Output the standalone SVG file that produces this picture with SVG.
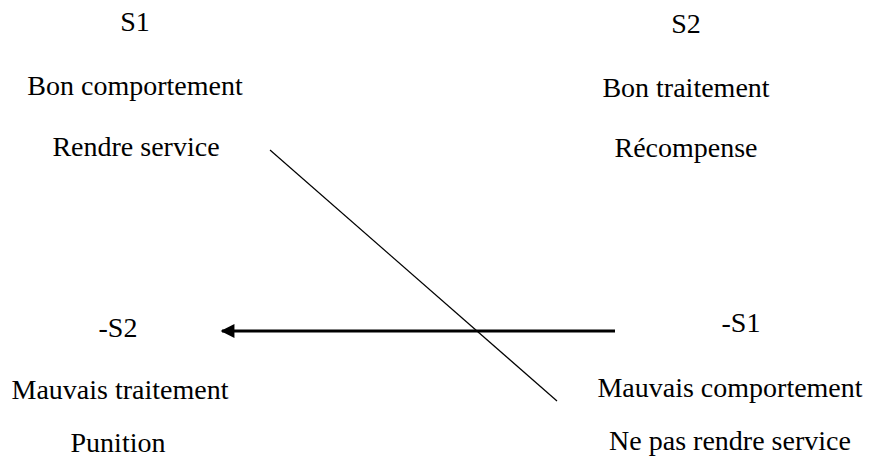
<svg xmlns="http://www.w3.org/2000/svg" width="879" height="463" viewBox="0 0 879 463">
  <style>
    .lbl { font-family: 'Liberation Serif', 'Times New Roman', Times, serif; font-size: 28px; fill: #000; text-anchor: middle; }
    .thin { stroke: #000; stroke-width: 1.2; fill: none; }
    .thick { stroke: #000; stroke-width: 3; fill: none; }
  </style>
  <defs>
    <marker id="head" viewBox="0 0 10 10" refX="9" refY="5" markerWidth="5.5" markerHeight="4.6" markerUnits="strokeWidth" orient="auto">
      <path d="M0,0 L10,5 L0,10 z" fill="#000"/>
    </marker>
  </defs>

  <rect width="879" height="463" fill="#fff"/>

  <g id="s1" class="lbl" font-family="Liberation Serif, serif">
    <text x="135" y="31">S1</text>
    <text x="135" y="95">Bon comportement</text>
    <text x="136" y="156">Rendre service</text>
  </g>

  <g id="s2" class="lbl" font-family="Liberation Serif, serif">
    <text x="686" y="33">S2</text>
    <text x="686" y="97">Bon traitement</text>
    <text x="686" y="157">Récompense</text>
  </g>

  <g id="not-s2" class="lbl" font-family="Liberation Serif, serif">
    <text x="118" y="337">-S2</text>
    <text x="120" y="399">Mauvais traitement</text>
    <text x="118" y="452">Punition</text>
  </g>

  <g id="not-s1" class="lbl" font-family="Liberation Serif, serif">
    <text x="741" y="332">-S1</text>
    <text x="730" y="397">Mauvais comportement</text>
    <text x="730" y="450">Ne pas rendre service</text>
  </g>

  <g id="connectors">
    <line class="thin" x1="270" y1="150" x2="557" y2="401"/>
    <line class="thick" x1="615" y1="331" x2="222" y2="331" marker-end="url(#head)"/>
  </g>
</svg>
